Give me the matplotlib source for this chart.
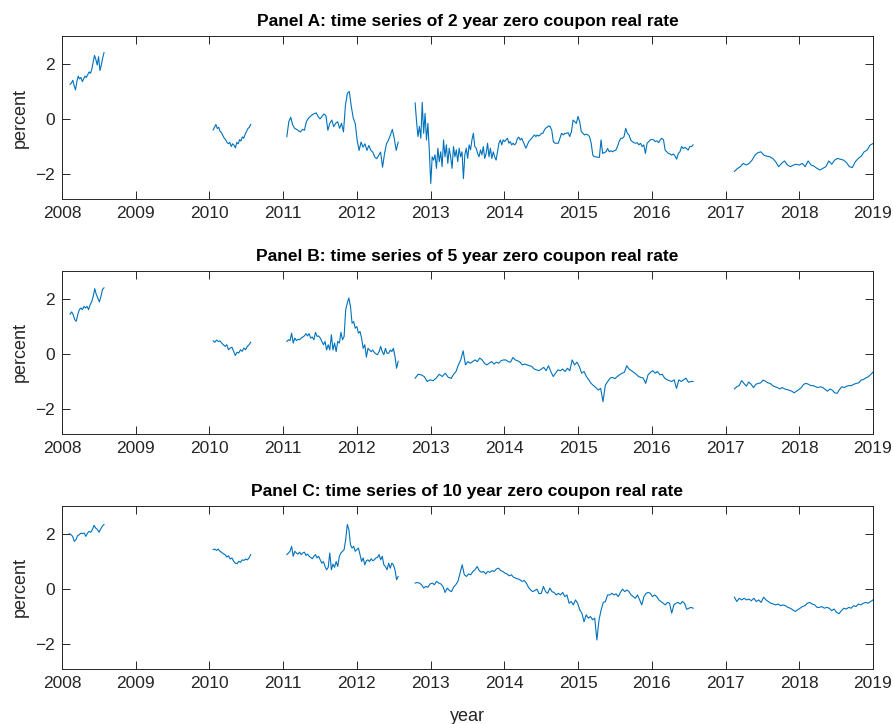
import numpy as np
import matplotlib
matplotlib.use("Agg")
import matplotlib.pyplot as plt

plt.rcParams['font.family'] = ['Liberation Sans', 'DejaVu Sans']

# zero coupon real rates (percent), one list per stretch of quotes
# each stretch: (first date, last date, values) with dates in fractional years

# ---- 2 year ----
a_2008 = [1.25, 1.3, 1.4, 1.2, 1.05, 1.35, 1.55, 1.45, 1.5, 1.35, 1.45, 1.55, 1.5,
          1.6, 1.7, 1.65, 1.8, 2.05, 2.3, 2.15, 1.95, 2.25, 1.75, 1.95, 2.2, 2.4]
a_2010 = [-0.4, -0.3, -0.2, -0.35, -0.3, -0.45, -0.5, -0.6, -0.7, -0.75, -0.85, -0.9,
          -0.85, -1.0, -0.9, -0.95, -1.05, -0.85, -0.9, -0.75, -0.8, -0.65, -0.7,
          -0.55, -0.45, -0.35, -0.3, -0.2]
a_2011 = [-0.64, -0.1, 0.06, -0.22, -0.34, -0.38, -0.43, -0.47, -0.38, -0.41, -0.1,
          0.02, 0.09, 0.15, 0.19, 0.22, 0.09, 0.0, 0.09, 0.18, 0.12, -0.41, -0.16,
          -0.04, -0.28, -0.16, -0.1, -0.34, -0.16, -0.47, 0.5, 0.93, 0.99, 0.45, 0.03,
          -0.16, -0.77, -1.14, -0.84, -1.02, -0.9, -1.14, -0.96, -1.14, -1.2, -1.38,
          -1.44, -1.32, -1.2, -1.75, -1.26, -0.9, -0.77, -0.59, -0.38, -0.71, -1.14,
          -0.84]
a_2013 = [0.58, -0.1, -0.64, -0.27, -0.7, 0.6, -0.52, 0.2, -0.76, -0.16, -1.19, -2.34,
          -1.37, -1.49, -1.3, -1.79, -1.06, -1.55, -1.19, -1.73, -0.76, -1.37, -0.94,
          -1.61, -1.06, -1.37, -1.79, -1.0, -1.37, -1.12, -1.55, -1.06, -1.37, -1.19,
          -2.16, -1.3, -1.06, -1.43, -0.94, -1.12, -0.76, -0.52, -1.0, -1.06, -1.25,
          -1.37, -1.12, -1.3, -1.0, -1.43, -1.25, -0.88, -1.37, -1.06, -1.43, -1.19,
          -1.37, -1.49, -1.19, -0.88, -0.76, -0.94, -0.76, -0.82, -0.76, -0.7, -0.88,
          -0.82, -0.94, -0.88, -0.94, -0.88, -0.7, -0.66, -0.76, -0.7, -0.82, -0.94,
          -1.06, -0.94, -0.82, -0.76, -0.7, -0.64, -0.58, -0.64, -0.58, -0.62, -0.58,
          -0.52, -0.52, -0.4, -0.33, -0.3, -0.25, -0.27]
a_2015 = [-0.28, -0.4, -0.82, -0.88, -0.88, -0.88, -0.7, -0.52, -0.58, -0.52, -0.52,
          -0.5, -0.64, -0.46, -0.04, -0.1, -0.16, 0.09, -0.1, -0.46, -0.52, -0.58,
          -0.55, -0.58, -0.64, -0.88, -1.31, -1.37, -1.37, -1.39, -1.39, -0.76, -1.25,
          -1.22, -1.19, -1.07, -1.19, -1.15, -1.19, -1.15, -1.13, -1.0, -0.82, -0.7,
          -0.7, -0.64, -0.34, -0.52, -0.58, -0.76, -0.82, -0.86, -0.88, -0.86, -0.94,
          -0.88, -1.0, -0.94, -1.25, -0.88, -0.82, -0.76, -0.74, -0.76, -0.82, -0.79,
          -0.86, -0.76, -0.7, -0.76, -1.13, -1.19, -1.25, -1.27, -1.31, -1.27, -1.34,
          -1.46, -1.25, -1.19, -1.0, -1.07, -1.03, -1.07, -1.13, -1.0, -1.0, -0.94]
a_2017 = [-1.9, -1.8, -1.73, -1.61, -1.67, -1.61, -1.49, -1.31, -1.22, -1.19, -1.31,
          -1.35, -1.37, -1.43, -1.55, -1.73, -1.61, -1.52, -1.67, -1.73, -1.67, -1.64,
          -1.67, -1.61, -1.73, -1.52, -1.67, -1.71, -1.79, -1.85, -1.79, -1.73, -1.52,
          -1.64, -1.49, -1.43, -1.46, -1.49, -1.58, -1.73, -1.76, -1.55, -1.43, -1.35,
          -1.19, -1.13, -0.95, -0.89]

# ---- 5 year ----
b_2008 = [1.44, 1.52, 1.42, 1.24, 1.18, 1.42, 1.6, 1.66, 1.6, 1.72, 1.66, 1.72, 1.6,
          1.78, 1.88, 2.08, 2.36, 2.15, 2.02, 1.88, 2.08, 2.33, 2.39]
b_2010 = [0.47, 0.42, 0.5, 0.45, 0.47, 0.39, 0.33, 0.27, 0.33, 0.15, 0.21, 0.24, 0.09,
          -0.06, 0.06, 0.03, 0.15, 0.09, 0.21, 0.15, 0.27, 0.33, 0.42]
b_2011 = [0.45, 0.51, 0.48, 0.75, 0.39, 0.57, 0.48, 0.53, 0.51, 0.57, 0.61, 0.65, 0.73,
          0.65, 0.73, 0.57, 0.61, 0.51, 0.78, 0.63, 0.65, 0.57, 0.45, 0.33, 0.45, 0.14,
          0.33, 0.14, 0.69, 0.14, 0.39, 0.08, 0.45, 0.39, 0.78, 0.51, 0.63, 1.6, 1.84,
          2.02, 1.72, 1.11, 1.17, 0.93, 0.99, 0.75, 0.81, 0.57, 0.2, 0.33, -0.12, 0.2,
          0.14, 0.08, 0.14, 0.05, 0.0, -0.03, 0.08, 0.27, 0.08, -0.03, 0.2, 0.02, 0.02,
          0.14, 0.08, 0.2, -0.1, -0.52, -0.27]
b_2012 = [-0.88, -0.74, -0.76, -0.82, -1.0, -0.94, -0.97, -0.88, -0.74, -0.82, -0.7,
          -0.85, -0.88]
b_2013 = [-0.88, -0.74, -0.64, -0.4, -0.22, 0.11, -0.4, -0.28, -0.34, -0.28, -0.22,
          -0.28, -0.15, -0.22, -0.34, -0.4, -0.34, -0.28, -0.37, -0.3, -0.34, -0.25,
          -0.22, -0.22, -0.28, -0.3, -0.13, -0.22, -0.25, -0.3, -0.4, -0.37, -0.4,
          -0.43, -0.46, -0.55, -0.58, -0.61, -0.55, -0.49, -0.61, -0.43, -0.64, -0.82,
          -0.7, -0.58, -0.61, -0.55, -0.64, -0.52, -0.61, -0.22, -0.4, -0.3, -0.46,
          -0.7, -0.64, -0.82, -0.94, -1.07, -1.15, -1.22, -1.31, -1.25, -1.73, -1.13,
          -1.0, -0.88, -0.85, -0.9, -0.82, -0.76, -0.7, -0.67, -0.43, -0.55, -0.61,
          -0.67, -0.74, -0.82, -0.85, -0.88, -1.07, -0.76, -0.67, -0.61, -0.7, -0.64,
          -0.76, -0.74, -0.88, -0.94, -0.97, -1.0, -0.94, -1.25, -0.94, -1.0, -0.94,
          -0.88, -1.03, -1.0, -1.0]
b_2017 = [-1.27, -1.19, -1.15, -0.97, -1.07, -1.17, -1.02, -1.1, -1.22, -1.1, -1.07,
          -1.05, -0.95, -0.99, -1.05, -1.07, -1.15, -1.19, -1.22, -1.27, -1.22, -1.27,
          -1.29, -1.32, -1.35, -1.41, -1.35, -1.29, -1.22, -1.1, -1.07, -1.1, -1.15,
          -1.15, -1.19, -1.22, -1.19, -1.22, -1.29, -1.35, -1.27, -1.32, -1.41, -1.43,
          -1.29, -1.19, -1.22, -1.17, -1.15, -1.15, -1.1, -1.07, -1.05, -0.95, -0.93,
          -0.87, -0.83, -0.75, -0.66]

# ---- 10 year ----
c_2008 = [2.0, 1.96, 1.9, 1.72, 1.78, 1.93, 1.96, 2.02, 2.0, 2.02, 1.9, 2.02, 2.08,
          2.05, 2.15, 2.3, 2.2, 2.15, 2.05, 2.17, 2.27, 2.33]
c_2010 = [1.42, 1.44, 1.39, 1.44, 1.36, 1.32, 1.27, 1.24, 1.15, 1.2, 1.08, 1.12, 1.0,
          0.93, 0.91, 1.0, 0.96, 1.05, 1.03, 1.08, 1.05, 1.12, 1.24]
c_2011 = [1.24, 1.3, 1.36, 1.54, 1.18, 1.36, 1.3, 1.26, 1.33, 1.24, 1.3, 1.33, 1.21,
          1.26, 1.18, 1.14, 1.09, 1.18, 1.24, 1.12, 1.18, 1.05, 0.93, 0.99, 0.81, 0.69,
          0.78, 1.3, 0.69, 0.9, 0.78, 0.99, 0.81, 1.18, 1.3, 1.36, 1.42, 1.78, 2.33,
          2.15, 1.6, 1.48, 1.54, 1.36, 1.42, 1.48, 1.24, 0.99, 1.12, 0.87, 1.02, 1.05,
          0.99, 1.09, 1.02, 1.05, 1.12, 1.14, 1.24, 1.05, 1.18, 0.87, 0.81, 0.69, 0.93,
          0.75, 0.93, 0.87, 0.69, 0.33, 0.45]
c_2013 = [0.21, 0.23, 0.21, 0.15, 0.03, 0.09, 0.06, 0.18, 0.21, 0.15, 0.27, 0.21, 0.18,
          0.09, -0.13, 0.03, -0.06, -0.1, 0.06, 0.15, 0.27, 0.57, 0.87, 0.51, 0.45,
          0.54, 0.51, 0.63, 0.69, 0.81, 0.66, 0.6, 0.63, 0.54, 0.63, 0.6, 0.66, 0.63,
          0.72, 0.75, 0.66, 0.63, 0.57, 0.54, 0.47, 0.51, 0.42, 0.39, 0.36, 0.33, 0.27,
          0.3, 0.21, 0.06, -0.04, -0.1, -0.06, -0.01, -0.18, -0.16, 0.09, -0.1, -0.16,
          0.03, -0.1, -0.13, -0.22, -0.16, -0.22, -0.13, -0.28, -0.22, -0.52, -0.46,
          -0.58, -0.4, -0.52, -0.76, -0.88, -1.19, -0.94, -1.06, -1.0, -1.12, -1.06,
          -1.85, -1.12, -0.76, -0.49, -0.46, -0.22, -0.22, -0.16, -0.22, -0.18, -0.28,
          -0.13, -0.01, -0.1, -0.04, -0.1, -0.22, -0.28, -0.34, -0.22, -0.4, -0.58,
          -0.28, -0.16, -0.13, -0.16, -0.28, -0.22, -0.28, -0.4, -0.46, -0.52, -0.58,
          -0.49, -0.52, -0.88, -0.58, -0.52, -0.49, -0.55, -0.46, -0.52, -0.74, -0.7,
          -0.67, -0.7]
c_2017 = [-0.3, -0.46, -0.34, -0.4, -0.34, -0.4, -0.37, -0.43, -0.34, -0.46, -0.4,
          -0.49, -0.3, -0.4, -0.46, -0.52, -0.55, -0.58, -0.55, -0.61, -0.58, -0.61,
          -0.67, -0.7, -0.76, -0.82, -0.76, -0.7, -0.64, -0.61, -0.52, -0.49, -0.55,
          -0.58, -0.67, -0.67, -0.64, -0.7, -0.67, -0.7, -0.79, -0.73, -0.85, -0.9,
          -0.79, -0.7, -0.73, -0.67, -0.7, -0.61, -0.64, -0.55, -0.58, -0.52, -0.49,
          -0.52, -0.46, -0.4]

panels = [
    ('Panel A: time series of 2 year zero coupon real rate', [
        (2008.11, 2008.57, a_2008),
        (2010.05, 2010.56, a_2010),
        (2011.05, 2012.56, a_2011),
        (2012.79, 2014.62, a_2013),
        (2014.62, 2016.56, a_2015),
        (2017.12, 2019.0, a_2017),
    ]),
    ('Panel B: time series of 5 year zero coupon real rate', [
        (2008.11, 2008.57, b_2008),
        (2010.05, 2010.56, b_2010),
        (2011.05, 2012.56, b_2011),
        (2012.79, 2013.28, b_2012),
        (2013.28, 2016.56, b_2013),
        (2017.12, 2019.0, b_2017),
    ]),
    ('Panel C: time series of 10 year zero coupon real rate', [
        (2008.1, 2008.57, c_2008),
        (2010.05, 2010.56, c_2010),
        (2011.05, 2012.56, c_2011),
        (2012.79, 2016.56, c_2013),
        (2017.12, 2019.0, c_2017),
    ]),
]

years = list(range(2008, 2020))
line_col = '#0072BD'
axis_col = '#262626'

fig = plt.figure(figsize=(8.93, 7.24), dpi=100)
bottoms = [0.7251, 0.4006, 0.076]

for (title, pieces), b in zip(panels, bottoms):
    ax = fig.add_axes([0.0694, b, 0.9082, 0.2251])
    for t0, t1, vals in pieces:
        t = np.linspace(t0, t1, len(vals))
        ax.plot(t, vals, color=line_col, lw=0.8)
    ax.set_xlim(2008, 2019)
    ax.set_ylim(-2.9, 3)
    ax.set_xticks(years)
    ax.set_yticks([-2, 0, 2])
    ax.tick_params(direction='in', length=6, width=0.7, top=True, right=True,
                   labelsize=12.5, colors=axis_col, pad=5)
    for s in ax.spines.values():
        s.set_color(axis_col)
        s.set_linewidth(0.7)
    ax.set_ylabel('percent', fontsize=13, color=axis_col, labelpad=5)
    ax.set_title(title, fontsize=12.5, fontweight='bold', pad=7)

ax.set_xlabel('year', fontsize=13, color=axis_col, labelpad=12)

fig.savefig('out.png', dpi=100)
